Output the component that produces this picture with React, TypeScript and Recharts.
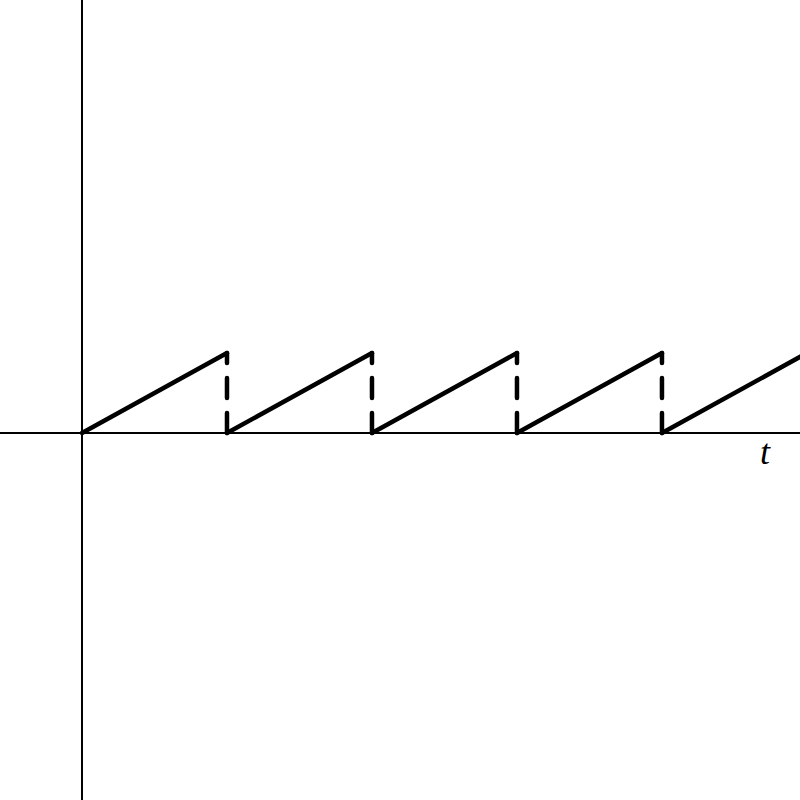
import { LineChart, Line, XAxis, YAxis, ReferenceLine } from "recharts";

// sawtooth: each tooth rises linearly from 0 to its peak, then drops back
const toothStarts = [0, 1, 2, 3, 4];
const toothEnds = [1, 2, 3, 4, 5];
const toothPeaks = [1, 1, 1, 1, 1];
// times of the (dashed) drops back to zero
const jumpTimes = [1, 2, 3, 4];
const axisLabel = "t";

const xDomain: [number, number] = [-0.5655, 4.952];
const yDomain: [number, number] = [-4.5875, 5.4125];

function buildRamps() {
  const rows: { t: number; v: number | null }[] = [];
  toothStarts.forEach((s, i) => {
    rows.push({ t: s, v: 0 });
    rows.push({ t: toothEnds[i], v: toothPeaks[i] });
    rows.push({ t: toothEnds[i], v: null });
  });
  return rows;
}

export default function App() {
  const data = buildRamps();

  return (
    <div style={{ position: "absolute", left: 0, top: 0 }}>
      <LineChart width={800} height={800} data={data} margin={{ top: 0, right: 0, bottom: 0, left: 0 }}>
        <XAxis type="number" dataKey="t" domain={xDomain} allowDataOverflow hide />
        <YAxis type="number" domain={yDomain} allowDataOverflow hide />
        <ReferenceLine x={0} stroke="#000" strokeWidth={2} />
        <ReferenceLine
          y={0}
          stroke="#000"
          strokeWidth={2}
          label={(props: any) => {
            const vb = props.viewBox;
            return (
              <text
                x={vb.x + vb.width - 35}
                y={vb.y + 31}
                textAnchor="middle"
                fontFamily="'Liberation Serif', 'DejaVu Serif', serif"
                fontStyle="italic"
                fontSize={36}
                fill="#000"
              >
                {axisLabel}
              </text>
            );
          }}
        />
        {jumpTimes.map((j, i) => (
          <ReferenceLine
            key={j}
            segment={[
              { x: j, y: 0 },
              { x: j, y: toothPeaks[i] },
            ]}
            stroke="#000"
            strokeWidth={4.5}
            strokeLinecap="round"
            strokeDasharray="20 15"
          />
        ))}
        <Line
          dataKey="v"
          type="linear"
          stroke="#000"
          strokeWidth={4.5}
          strokeLinejoin="round"
          strokeLinecap="round"
          dot={false}
          activeDot={false}
          connectNulls={false}
          isAnimationActive={false}
        />
      </LineChart>
    </div>
  );
}
